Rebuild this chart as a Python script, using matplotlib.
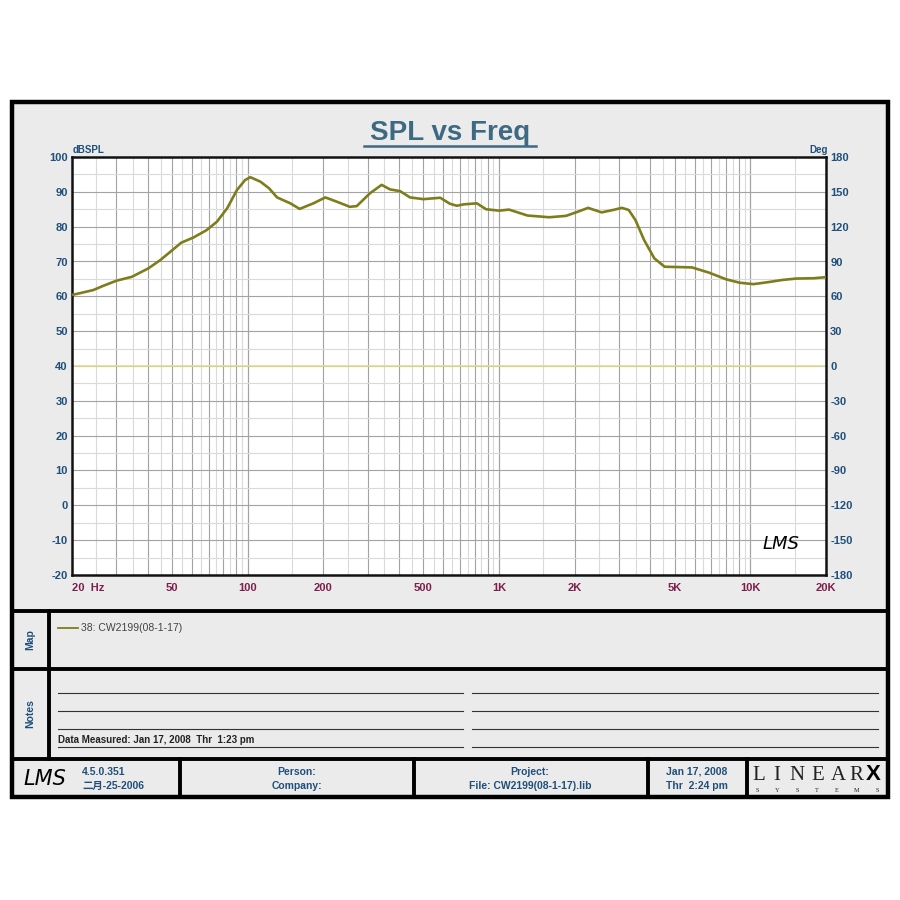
import numpy as np
import matplotlib
matplotlib.use("Agg")
import matplotlib.pyplot as plt
from matplotlib.patches import Rectangle

plt.rcParams["axes.unicode_minus"] = False

# --- data ---
freq_hz = [20, 21.5, 24.3, 26.6, 30.1, 34.6, 40.2, 44.9, 50.6, 54.4, 60.9, 68.6,
           75.4, 82.9, 90.6, 97.7, 102.5, 112.5, 121.7, 130.9, 147.8, 161.0, 182.6,
           203.7, 225.7, 255.0, 271.6, 306.8, 341.2, 368.5, 404.0, 442.5, 500, 583.8,
           636.9, 679, 723, 816, 889, 1000, 1096, 1298, 1585, 1848, 2060, 2262, 2560,
           2848, 3082, 3280, 3490, 3776, 4150, 4560, 5860, 6850, 8000, 9080, 10290,
           11840, 13400, 15200, 17900, 20000]
spl_db = [60.4, 60.9, 61.8, 63.0, 64.5, 65.6, 68.0, 70.4, 73.5, 75.4, 76.9, 79.0,
          81.4, 85.3, 90.5, 93.4, 94.2, 92.9, 91.0, 88.4, 86.7, 85.1, 86.7,
          88.4, 87.2, 85.7, 85.9, 89.6, 92.0, 90.7, 90.2, 88.4, 87.9, 88.3,
          86.6, 86.0, 86.4, 86.7, 85.0, 84.6, 84.9, 83.2, 82.7, 83.1, 84.3, 85.4, 84.1,
          84.8, 85.4, 84.8, 81.9, 76.2, 70.9, 68.5, 68.3, 66.8, 64.9, 63.9, 63.5,
          64.1, 64.7, 65.1, 65.2, 65.5]
phase_freq = [20, 20000]
phase_deg = [0, 0]

x_ticks = [20, 50, 100, 200, 500, 1000, 2000, 5000, 10000, 20000]
x_labels = ["20  Hz", "50", "100", "200", "500", "1K", "2K", "5K", "10K", "20K"]
y_ticks = list(range(-20, 101, 10))
deg_ticks = list(range(-180, 181, 30))

NAVY = "#1f4f7a"
MAROON = "#7d1f4c"
PANEL = "#ebebeb"
CURVE = "#7d7d1c"
NARROW = ["Liberation Sans Narrow", "Liberation Sans", "Noto Sans CJK SC"]

fig = plt.figure(figsize=(9, 9), dpi=100)
fig.patch.set_facecolor("white")

# background drawing layer in pixel coordinates
bg = fig.add_axes([0, 0, 1, 1], zorder=0)
bg.set_xlim(0, 900)
bg.set_ylim(900, 0)
bg.axis("off")

bg.add_patch(Rectangle((12, 102), 876, 695, facecolor=PANEL, edgecolor="none"))
# frame lines
frame_lw = 2.8
bg.add_patch(Rectangle((12, 102), 876, 695, facecolor="none", edgecolor="black", lw=3.2))
for yy in [611, 669, 759]:
    bg.plot([12, 888], [yy, yy], color="black", lw=frame_lw)
bg.plot([49, 49], [611, 759], color="black", lw=frame_lw)
for xx in [180, 414, 648, 747]:
    bg.plot([xx, xx], [759, 797], color="black", lw=frame_lw)

# title
bg.text(450, 133, "SPL vs Freq", ha="center", va="center", fontsize=20,
        fontweight="bold", color="#3d6a82", family="Liberation Sans")
bg.plot([364, 536], [146, 146], color="#3d6a82", lw=1.8)

bg.text(73, 150, "dBSPL", ha="left", va="center", fontsize=7, fontweight="bold",
        color=NAVY, family=NARROW)
bg.text(828, 150, "Deg", ha="right", va="center", fontsize=7, fontweight="bold",
        color=NAVY, family=NARROW)

# side labels
bg.text(30, 640, "Map", rotation=90, ha="center", va="center", fontsize=7.5,
        fontweight="bold", color=NAVY, family=NARROW)
bg.text(30, 714, "Notes", rotation=90, ha="center", va="center", fontsize=7.5,
        fontweight="bold", color=NAVY, family=NARROW)

# map legend
bg.plot([58, 78], [628, 628], color=CURVE, lw=1.3)
bg.text(81, 628, "38: CW2199(08-1-17)", ha="left", va="center", fontsize=7.5,
        color="#444444", family="Liberation Sans")

# notes lines
for yy in [693, 711, 729, 747]:
    bg.plot([58, 463], [yy, yy], color="#333333", lw=0.8)
    bg.plot([472, 878], [yy, yy], color="#333333", lw=0.8)
bg.text(58, 743, "Data Measured: Jan 17, 2008  Thr  1:23 pm", ha="left", va="baseline",
        fontsize=7, fontweight="bold", color="#222222", family=NARROW)

# footer
bg.text(45, 779, "LMS", ha="center", va="center", fontsize=15, style="italic",
        color="black", family="DejaVu Sans", fontweight="light")
bg.text(82, 772, "4.5.0.351", ha="left", va="center", fontsize=7.5, fontweight="bold",
        color=NAVY, family=NARROW)
bg.text(82, 786, "二月-25-2006", ha="left", va="center", fontsize=7.5, fontweight="bold",
        color=NAVY, family=NARROW)
bg.text(297, 772, "Person:", ha="center", va="center", fontsize=7.5, fontweight="bold",
        color=NAVY, family=NARROW)
bg.text(297, 786, "Company:", ha="center", va="center", fontsize=7.5, fontweight="bold",
        color=NAVY, family=NARROW)
bg.text(530, 772, "Project:", ha="center", va="center", fontsize=7.5, fontweight="bold",
        color=NAVY, family=NARROW)
bg.text(530, 786, "File: CW2199(08-1-17).lib", ha="center", va="center", fontsize=7.5,
        fontweight="bold", color=NAVY, family=NARROW)
bg.text(697, 772, "Jan 17, 2008", ha="center", va="center", fontsize=7.5,
        fontweight="bold", color=NAVY, family=NARROW)
bg.text(697, 786, "Thr  2:24 pm", ha="center", va="center", fontsize=7.5,
        fontweight="bold", color=NAVY, family=NARROW)
# LINEARX logo, letter by letter
for ch, xx in zip("LINEAR", [759, 777, 797, 818, 838, 856]):
    bg.text(xx, 775, ch, ha="center", va="center", fontsize=15,
            color="#222222", family="Liberation Serif", fontweight="light")
bg.text(873, 775, "X", ha="center", va="center", fontsize=16, fontweight="bold",
        color="black", family="Liberation Sans")
for i, ch in enumerate("SYSTEMS"):
    bg.text(757 + i * 20, 790, ch, ha="center", va="center", fontsize=4.5,
            color="#222222", family="Liberation Serif")

# --- plot area ---
ax = fig.add_axes([72 / 900, 1 - 575 / 900, 754 / 900, 418 / 900], zorder=2)
ax.set_facecolor("white")
ax.set_xscale("log")
ax.set_xlim(20, 20000)
ax.set_ylim(-20, 100)

# grid: dark at integer steps, light at half steps, per decade
for dec in [10, 100, 1000, 10000]:
    for m in np.arange(1, 10.01, 0.5):
        f = m * dec
        if f <= 20 or f >= 20000:
            continue
        dark = float(m).is_integer()
        ax.axvline(f, color="#a3a3a3" if dark else "#dadada", lw=0.8, zorder=1)
for v in range(-15, 100, 5):
    ax.axhline(v, color="#a3a3a3" if v % 10 == 0 else "#dadada", lw=0.8, zorder=1)

ax.plot(phase_freq, [40 + p / 3 for p in phase_deg], color="#dedd96", lw=1.2, zorder=2)
ax.plot(freq_hz, spl_db, color=CURVE, lw=1.9, zorder=3)

ax.set_xticks(x_ticks)
ax.set_xticklabels(x_labels)
ax.xaxis.set_minor_locator(matplotlib.ticker.NullLocator())
ax.set_yticks(y_ticks)
ax.tick_params(axis="both", length=0)
ax.tick_params(axis="x", pad=6, colors=MAROON)
ax.tick_params(axis="y", pad=3, colors=NAVY)
for lab in ax.get_xticklabels() + ax.get_yticklabels():
    lab.set_fontweight("bold")
    lab.set_fontsize(8)
    lab.set_family(NARROW)
for lab in ax.get_xticklabels():
    lab.set_color(MAROON)
ax.get_xticklabels()[0].set_horizontalalignment("left")
for s in ax.spines.values():
    s.set_linewidth(1.8)
    s.set_color("#111111")

ax2 = ax.twinx()
ax2.set_ylim(-180, 180)
ax2.set_yticks(deg_ticks)
ax2.tick_params(axis="y", length=0, pad=3, colors=NAVY)
for lab in ax2.get_yticklabels():
    lab.set_fontweight("bold")
    lab.set_fontsize(8)
    lab.set_family(NARROW)
for s in ax2.spines.values():
    s.set_visible(False)

ax.text(0.965, 0.075, "LMS", transform=ax.transAxes, ha="right", va="center",
        fontsize=13, style="italic", color="black", zorder=4)

fig.savefig("out.png", dpi=100, facecolor="white")
